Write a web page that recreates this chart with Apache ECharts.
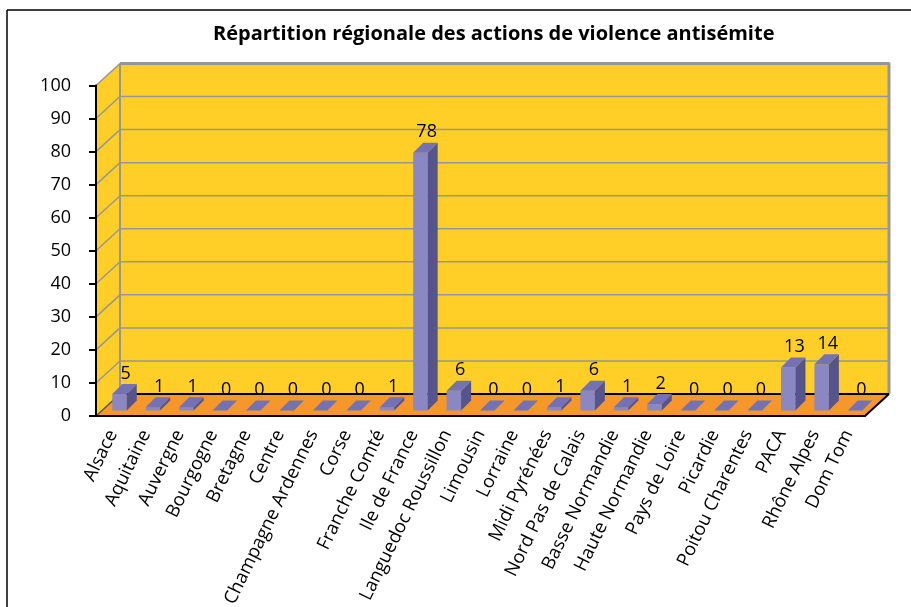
<!DOCTYPE html>
<html>
<head>
<meta charset="utf-8">
<style>
html, body { margin: 0; padding: 0; background: #fff; }
#main { width: 911px; height: 607px; }
</style>
<script src="https://cdn.jsdelivr.net/npm/echarts@6/dist/echarts.min.js"></script>
</head>
<body>
<div id="main"></div>
<script>
const regions = ['Alsace', 'Aquitaine', 'Auvergne', 'Bourgogne', 'Bretagne', 'Centre',
    'Champagne Ardennes', 'Corse', 'Franche Comté', 'Ile de France', 'Languedoc Roussillon',
    'Limousin', 'Lorraine', 'Midi Pyrénées', 'Nord Pas de Calais', 'Basse Normandie',
    'Haute Normandie', 'Pays de Loire', 'Picardie', 'Poitou Charentes', 'PACA',
    'Rhône Alpes', 'Dom Tom'];
const actions = [5, 1, 1, 0, 0, 0, 0, 0, 1, 78, 6, 0, 0, 1, 6, 1, 2, 0, 0, 0, 13, 14, 0];
const wallTicks = [10, 20, 30, 40, 50, 60, 70, 80, 90, 100];

const FONT = '"Open Sans", sans-serif';
// profondeur du faux 3D
const WALL_DX = 24, WALL_DY = -22;
const BAR_DX = 10, BAR_DY = -10, BAR_W = 14.5;
const BAR_SHIFT_X = 6.8, BAR_SHIFT_Y = -5.5;

function poly(points, fill, stroke, lineWidth) {
    return {
        type: 'polygon',
        shape: { points: points },
        style: { fill: fill, stroke: stroke || null, lineWidth: lineWidth || 0 }
    };
}

function seg(x1, y1, x2, y2, color, width) {
    return {
        type: 'line',
        shape: { x1: x1, y1: y1, x2: x2, y2: y2 },
        style: { stroke: color, lineWidth: width }
    };
}

function renderWalls(params) {
    let c = params.coordSys;
    let l = c.x, r = c.x + c.width, t = c.y, b = c.y + c.height;
    return {
        type: 'group',
        children: [
            poly([[l + WALL_DX, t + WALL_DY], [r + WALL_DX, t + WALL_DY], [r + WALL_DX, b + WALL_DY], [l + WALL_DX, b + WALL_DY]], '#FFCF27'),
            poly([[l, t], [l + WALL_DX, t + WALL_DY], [l + WALL_DX, b + WALL_DY], [l, b]], '#FFCF27'),
            poly([[l, b], [r, b], [r + WALL_DX, b + WALL_DY], [l + WALL_DX, b + WALL_DY]], '#F7962B'),
            seg(l + WALL_DX, t + WALL_DY, l + WALL_DX, b + WALL_DY, '#969696', 2),
            seg(r + WALL_DX, t + WALL_DY - 1, r + WALL_DX, b + WALL_DY, '#969696', 3),
            seg(l, b, l + WALL_DX, b + WALL_DY, '#555555', 1.5),
            seg(r, b, r + WALL_DX, b + WALL_DY, '#000000', 2),
            seg(l + WALL_DX, b + WALL_DY, r + WALL_DX, b + WALL_DY, '#000000', 2)
        ]
    };
}

function renderGridLine(params, api) {
    let c = params.coordSys;
    let y = api.coord([0, api.value(1)])[1];
    let w = api.value(1) === 100 ? 3 : 1.5;
    return {
        type: 'group',
        children: [
            seg(c.x, y, c.x + WALL_DX, y + WALL_DY, '#969696', 1.5),
            seg(c.x + WALL_DX, y + WALL_DY, c.x + c.width + WALL_DX, y + WALL_DY, '#969696', w)
        ]
    };
}

function renderBar(params, api) {
    let base = api.coord([api.value(0), 0]);
    let top = api.coord([api.value(0), api.value(1)]);
    let x0 = base[0] + BAR_SHIFT_X - BAR_W / 2, x1 = x0 + BAR_W;
    let y0 = base[1] + BAR_SHIFT_Y, y1 = top[1] + BAR_SHIFT_Y;
    return {
        type: 'group',
        children: [
            poly([[x0, y0], [x1, y0], [x1, y1], [x0, y1]], '#8A87C2'),
            poly([[x1, y0], [x1 + BAR_DX, y0 + BAR_DY], [x1 + BAR_DX, y1 + BAR_DY], [x1, y1]], '#55548D'),
            poly([[x0, y1], [x1, y1], [x1 + BAR_DX, y1 + BAR_DY], [x0 + BAR_DX, y1 + BAR_DY]], '#7472B5'),
            {
                type: 'text',
                style: {
                    x: top[0] + 13,
                    y: top[1] - 26,
                    text: String(api.value(1)),
                    fill: '#000',
                    font: '18px ' + FONT,
                    textAlign: 'center',
                    textVerticalAlign: 'middle'
                }
            }
        ]
    };
}

let myChart = echarts.init(document.getElementById('main'), null, { renderer: 'canvas' });

let option = {
    animation: false,
    backgroundColor: '#fff',
    title: {
        text: 'Répartition régionale des actions de violence antisémite',
        left: 208,
        top: 19,
        textStyle: { fontFamily: FONT, fontSize: 20, fontWeight: 'bold', color: '#000' }
    },
    // cadre : haut et gauche seulement, le reste sort de l'image
    graphic: [
        { type: 'line', shape: { x1: 7, y1: 10, x2: 911, y2: 10 }, style: { stroke: '#000', lineWidth: 1.5 }, silent: true, z: 100 },
        { type: 'line', shape: { x1: 7, y1: 10, x2: 7, y2: 607 }, style: { stroke: '#000', lineWidth: 1.5 }, silent: true, z: 100 }
    ],
    // outerBoundsMode none : les libellés coupés en bas ne doivent pas réduire la grille
    grid: { left: 96, right: 46, top: 85.5, bottom: 191, outerBoundsMode: 'none' },
    xAxis: {
        type: 'category',
        data: regions,
        z: 10,
        axisLine: { lineStyle: { color: '#000', width: 2 } },
        axisTick: { alignWithLabel: false, interval: 0, length: 6, lineStyle: { color: '#000', width: 2 } },
        axisLabel: { interval: 0, rotate: 64, margin: 15, padding: [0, 0, 6, 0], color: '#000', fontFamily: FONT, fontSize: 18.5 }
    },
    yAxis: {
        type: 'value',
        min: 0,
        max: 100,
        interval: 10,
        z: 10,
        axisLine: { show: true, lineStyle: { color: '#000', width: 2 } },
        axisTick: { show: true, length: 7, lineStyle: { color: '#000', width: 2 } },
        axisLabel: { margin: 25, padding: [5, 0, 0, 0], color: '#000', fontFamily: FONT, fontSize: 18 },
        splitLine: { show: false }
    },
    series: [
        { type: 'custom', silent: true, z: 1, data: [[0, 0]], renderItem: renderWalls },
        { type: 'custom', silent: true, z: 2, data: wallTicks.map(function (v) { return [0, v]; }), renderItem: renderGridLine },
        {
            type: 'custom',
            name: 'Actions',
            silent: true,
            z: 3,
            data: actions.map(function (v, i) { return [i, v]; }),
            renderItem: renderBar
        }
    ]
};

myChart.setOption(option, true);
</script>
</body>
</html>
